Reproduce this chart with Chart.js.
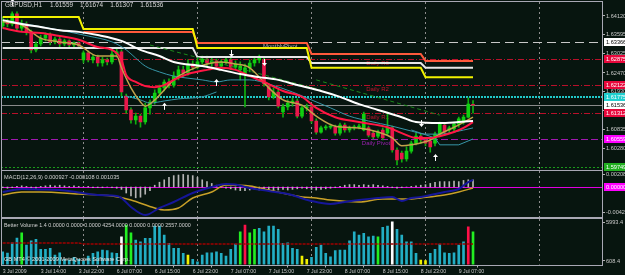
<!DOCTYPE html>
<html>
<head>
<meta charset="utf-8">
<script src="https://cdn.jsdelivr.net/npm/chart.js@4.4.1/dist/chart.umd.min.js"></script>
<style>
  html, body { margin:0; padding:0; background:#07150f; }
  #wrap { position:relative; width:625px; height:275px; overflow:hidden; background:#07150f; }
  canvas { position:absolute; left:0; }
</style>
</head>
<body>
<div id="wrap">
  <canvas id="cMain" width="625" height="171" style="top:0"></canvas>
  <canvas id="cMacd" width="625" height="48" style="top:170px"></canvas>
  <canvas id="cVol" width="625" height="57" style="top:218px"></canvas>
</div>
<script>
// ================= DATA =================
const symbolTitle = 'GBPUSD,H1';
const lastQuote = ['1.61559', '1.61674', '1.61307', '1.61536'];

// H1 bars, index 0 = 3 Jul 2009 06:00
const openP = [
1.6383,1.6398,1.6389,1.6418,1.6377,1.6389,1.6366,1.6314,1.6331,1.6348,
1.6357,1.6337,1.6345,1.6331,1.6340,1.6328,1.6334,1.6285,1.6305,1.6285,
1.6293,1.6276,1.6285,1.6279,1.6302,1.6308,1.6180,1.6140,1.6111,1.6122,
1.6105,1.6146,1.6163,1.6189,1.6204,1.6221,1.6212,1.6238,1.6256,1.6247,
1.6273,1.6264,1.6279,1.6287,1.6276,1.6282,1.6267,1.6279,1.6285,1.6264,
1.6256,1.6244,1.6262,1.6276,1.6285,1.6285,1.6209,1.6178,1.6192,1.6134,
1.6149,1.6160,1.6166,1.6122,1.6146,1.6149,1.6108,1.6076,1.6088,1.6090,
1.6090,1.6073,1.6096,1.6082,1.6088,1.6090,1.6082,1.6088,1.6073,1.6064,
1.6082,1.6073,1.6088,1.6024,1.6015,1.5998,1.6021,1.6044,1.6064,1.6053,
1.6050,1.6044,1.6070,1.6096,1.6082,1.6085,1.6099,1.6105,1.6119,1.61559];
const highP = [
1.6409,1.6403,1.6424,1.6424,1.6400,1.6395,1.6371,1.6337,1.6357,1.6363,
1.6363,1.6351,1.6351,1.6345,1.6343,1.6337,1.6337,1.6311,1.6311,1.6299,
1.6299,1.6293,1.6290,1.6314,1.6317,1.6314,1.6186,1.6146,1.6131,1.6128,
1.6160,1.6169,1.6198,1.6212,1.6227,1.6230,1.6250,1.6267,1.6267,1.6285,
1.6282,1.6290,1.6296,1.6296,1.6290,1.6287,1.6285,1.6293,1.6290,1.6282,
1.6279,1.6273,1.6285,1.6293,1.6299,1.6293,1.6215,1.6204,1.6198,1.6157,
1.6169,1.6175,1.6172,1.6151,1.6157,1.6154,1.6114,1.6093,1.6096,1.6099,
1.6096,1.6102,1.6102,1.6093,1.6096,1.6099,1.6134,1.6093,1.6079,1.6082,
1.6088,1.6131,1.6093,1.6030,1.6021,1.6033,1.6050,1.6073,1.6070,1.6059,
1.6056,1.6076,1.6105,1.6102,1.6093,1.6105,1.6119,1.6125,1.6175,1.61674];
const lowP = [
1.6377,1.6380,1.6383,1.6371,1.6369,1.6357,1.6305,1.6308,1.6325,1.6340,
1.6328,1.6331,1.6322,1.6325,1.6319,1.6322,1.6319,1.6276,1.6279,1.6276,
1.6267,1.6267,1.6270,1.6273,1.6293,1.6180,1.6131,1.6102,1.6099,1.6090,
1.6099,1.6128,1.6157,1.6180,1.6195,1.6204,1.6206,1.6227,1.6235,1.6241,
1.6256,1.6259,1.6273,1.6267,1.6267,1.6259,1.6262,1.6273,1.6256,1.6256,
1.6227,1.6149,1.6250,1.6267,1.6276,1.6209,1.6169,1.6172,1.6146,1.6119,
1.6140,1.6151,1.6117,1.6117,1.6137,1.6102,1.6070,1.6073,1.6082,1.6085,
1.6067,1.6067,1.6076,1.6076,1.6082,1.6085,1.6079,1.6062,1.6056,1.6059,
1.6053,1.6067,1.6018,1.5981,1.5989,1.5992,1.6015,1.6039,1.6044,1.6036,
1.6018,1.6036,1.6064,1.6067,1.6076,1.6079,1.6090,1.6099,1.6117,1.61307];
const closeP = [
1.6398,1.6389,1.6418,1.6377,1.6389,1.6366,1.6314,1.6331,1.6348,1.6357,
1.6337,1.6345,1.6331,1.6340,1.6328,1.6334,1.6325,1.6305,1.6285,1.6293,
1.6276,1.6285,1.6279,1.6302,1.6308,1.6192,1.6140,1.6111,1.6122,1.6105,
1.6146,1.6163,1.6189,1.6204,1.6221,1.6212,1.6238,1.6256,1.6247,1.6273,
1.6264,1.6279,1.6287,1.6276,1.6282,1.6267,1.6279,1.6285,1.6264,1.6273,
1.6267,1.6262,1.6276,1.6285,1.6290,1.6215,1.6178,1.6192,1.6151,1.6149,
1.6160,1.6166,1.6122,1.6146,1.6149,1.6108,1.6076,1.6088,1.6090,1.6093,
1.6073,1.6096,1.6082,1.6088,1.6090,1.6093,1.6128,1.6067,1.6062,1.6076,
1.6059,1.6088,1.6024,1.5995,1.5998,1.6021,1.6044,1.6064,1.6053,1.6044,
1.6033,1.6070,1.6099,1.6076,1.6088,1.6099,1.6114,1.6119,1.6157,1.61536];

// moving averages (bar index, price)
const whiteIdx = [0,4,8,12,16,20,25,29,33,36,42,46,50,54,58,62,67,71,75,79,84,87,92,96,99];
const whiteMA  = [1.6400,1.6389,1.6380,1.6371,1.6366,1.6357,1.6340,1.6314,1.6296,1.6279,1.6267,1.6256,1.6244,1.6235,1.6227,1.6212,1.6195,1.6178,1.6157,1.6140,1.6119,1.6105,1.6102,1.6105,1.6108];
const redIdx = [0,4,8,12,16,20,23,25,26,28,30,32,34,36,39,43,46,49,52,56,59,63,66,70,75,81,84,87,90,92,95,97,99];
const redMA  = [1.6377,1.6366,1.6363,1.6354,1.6343,1.6322,1.6314,1.6285,1.6241,1.6221,1.6209,1.6206,1.6212,1.6227,1.6244,1.6256,1.6262,1.6256,1.6238,1.6215,1.6195,1.6178,1.6146,1.6119,1.6105,1.6090,1.6073,1.6059,1.6059,1.6064,1.6076,1.6088,1.6105];
const khakiIdx = [0,4,8,12,16,20,24,25,27,29,30,32,34,36,39,43,46,49,52,56,59,63,66,70,75,79,82,84,86,90,92,95,99];
const khakiMA  = [1.6395,1.6386,1.6348,1.6337,1.6328,1.6296,1.6296,1.6262,1.6204,1.6163,1.6151,1.6169,1.6198,1.6227,1.6253,1.6273,1.6279,1.6273,1.6262,1.6204,1.6169,1.6154,1.6122,1.6093,1.6088,1.6076,1.6059,1.6036,1.6039,1.6053,1.6070,1.6090,1.6119];
const tealIdx = [0,6,12,18,23,26,28,30,33,36,39,42,45,48,52,56,61,65,69,73,77,82,86,89,92,95,99];
const tealMA  = [1.6400,1.6386,1.6371,1.6354,1.6337,1.6314,1.6290,1.6267,1.6250,1.6238,1.6232,1.6227,1.6221,1.6227,1.6227,1.6215,1.6192,1.6169,1.6146,1.6122,1.6108,1.6093,1.6079,1.6070,1.6070,1.6076,1.6088];
const bandLowAIdx = [26,29,31,34,37,42,45];
const bandLowA    = [1.6180,1.6169,1.6160,1.6166,1.6172,1.6178,1.6192];
const bandLowBIdx = [86,91,92,96,99];
const bandLowB    = [1.6082,1.6059,1.6039,1.6039,1.6056];
const trend1Idx = [31,67], trend1 = [1.6328,1.6198];
const trend2Idx = [66,92], trend2 = [1.6227,1.6125];

// daily step levels
const dayFirstBar = [0,17,41,65,89];
const dayLastBar  = [16,40,64,88,99];
const levelYellow = [1.6409,1.6374,1.6319,1.6262,1.6235];
const levelOrange = [null,1.6366,1.6334,1.6302,1.6282];
const levelWhite  = [1.6319,1.6319,1.6293,1.6276,1.6262];

// horizontal price levels
const levelKinds  = ['monthly','r3','r2','cyan','bid','r1','pivot','s1'];
const levelPrices = [1.63366,1.62875,1.62122,1.61775,1.61536,1.61312,1.60559,1.59749];
const levelLabels = ['1.63366','1.62875','1.62122','1.61775','1.61536','1.61312','1.60559','1.59749'];
const levelTexts  = {monthly:'MonthlyPivot', r3:'Daily R3', r2:'Daily R2', r1:'Daily R1', pivot:'Daily Pivot'};
const levelTextBar = {monthly:54.8, r3:76.5, r2:76.5, r1:76.5, pivot:75.6};

// arrows
const arrowIdx   = [2,48,55,34,45,88,91];
const arrowPrice = [1.6450,1.6305,1.6279,1.6149,1.6218,1.6102,1.6001];
const arrowDir   = ['up','down','down','up','up','down','up'];

// price axis
const priceTicks = [1.64120,1.63595,1.63025,1.62470,1.61930,1.61380,1.60835,1.60280];
const priceTickLabels = ['1.64120','1.63595','1.63025','1.62470','1.61930','1.61380','1.60835','1.60280'];

// time axis
const timeTickBars = [0,8,16,24,32,40,48,56,64,72,80,88,96];
const timeLabels = ['3 Jul 2009','3 Jul 14:00','3 Jul 22:00','6 Jul 07:00','6 Jul 15:00','6 Jul 23:00','7 Jul 07:00','7 Jul 15:00','7 Jul 23:00','8 Jul 07:00','8 Jul 15:00','8 Jul 23:00','9 Jul 07:00'];
const dayBreakBars = [16.8,40.9,64.9,88.9,112.9];

// MACD
const macdTitle = 'MACD(12,26,9) 0.000927 -0.000108 0.001035';
const macdHist = [
-0.0001,-0.0002,-0.0001,0.0001,0.0002,0.0001,-0.0001,-0.0002,
0.0001,0.0002,0.0003,0.0002,0.0003,0.0002,0.0001,0.0002,0.0001,0.0000,0.0001,-0.0001,-0.0001,
-0.0001,0.0000,-0.0001,-0.0002,
-0.0004,-0.0010,-0.0015,-0.0018,-0.0017,-0.0012,-0.0006,
0.0003,0.0008,0.0012,0.0016,0.0019,0.0020,0.0021,0.0020,0.0019,0.0016,0.0012,0.0009,0.0006,0.0003,0.0001,
-0.0002,-0.0003,-0.0005,-0.0006,-0.0006,-0.0005,-0.0004,-0.0005,-0.0005,-0.0006,-0.0006,-0.0005,-0.0004,-0.0005,-0.0004,-0.0003,-0.0002,-0.0003,
-0.0004,-0.0005,-0.0004,-0.0003,-0.0002,-0.0001,0.0001,
0.0003,0.0004,0.0004,0.0003,0.0004,0.0003,0.0004,0.0003,0.0002,0.0001,-0.0001,-0.0002,-0.0001,
0.0000,0.0001,0.0002,0.0003,
0.0004,0.0006,0.0008,0.0009,0.0009,0.0009,0.0010,0.0009,0.0011,0.0012,0.0012];
const macdMainIdx = [0,4,8,12,16,20,24,25,27,30,33,36,40,44,47,49,52,56,60,65,69,72,75,79,82,84,86,88,93,96,98,99];
const macdMain    = [-0.00083,-0.00033,-0.00042,-0.0005,-0.00092,-0.00133,-0.0015,-0.00183,-0.00333,-0.00467,-0.0035,-0.0025,-0.001,0,0.0005,0.00042,-0.00017,-0.00067,-0.00117,-0.00233,-0.00283,-0.0025,-0.00217,-0.00183,-0.00167,-0.00233,-0.00183,-0.00167,-0.00083,-0.00033,0.00083,0.00117];
const macdSigIdx = [0,4,8,16,23,27,32,34,37,40,44,47,52,56,63,66,69,75,80,86,88,93,96,99];
const macdSig    = [-0.00133,-0.00083,-0.00083,-0.00117,-0.0015,-0.00217,-0.0035,-0.00383,-0.0035,-0.00183,-0.00083,0.00033,0.00017,-0.0005,-0.00167,-0.00183,-0.00217,-0.0025,-0.002,-0.002,-0.00183,-0.00133,-0.00083,-0.00017];
const macdTicks = [-0.00425, 0.00208];
const macdTickLabels = ['-0.00425','0.00208'];

// Better Volume
const volTitle = 'Better Volume 1.4 0.0000 0.0000 0.0000 4254.0000 0.0000 0.0000 2557.0000';
const volumes = [
1890,1710,3130,3780,4510,2820,3410,3600,2220,2220,
2360,1440,1750,840,750,1120,840,600,1300,1670,
1890,2130,2030,1750,1670,3960,5580,4510,3510,3270,
3740,3740,5440,5440,4200,3050,2360,2360,1670,1440,
840,500,1440,1750,1750,1890,1670,1300,2220,2950,
4650,5580,4510,4980,5120,4650,5440,5440,4980,3050,
3130,2360,2220,1300,840,1100,2500,2820,1670,1200,
2030,2130,2130,3410,4650,4200,4430,3960,4060,3960,
5260,5440,6030,4980,4200,3270,3270,1670,750,650,
1670,2220,2950,1750,1670,1750,2820,3270,5340,4650];
// n = normal, g = churn, w = climax down, r = climax up, y = low volume
const volType = ('nnnngnnnnn'+'nnnnnnnnnn'+'nnnnnwggnn'+'nnnnnnnnny'+'nnnnnnnnnn'+
                 'grggnnnnnn'+'nnnyynnnnn'+'nnnnnnnnng'+'nnwnnnnnyy'+'nnnnnnnnrg').split('');
const volAvgIdx = [0,16,17,99];
const volAvg    = [3090,3090,2955,2955];
const volTicks = [608.4, 5993.4];
const volTickLabels = ['608.4','5993.4'];
const copyrightText = 'GB MT4 \u00a9 2001-2009 MetaQuotes Software Corp.';

// ================= RENDER =================
const FONT = '"Liberation Sans", Arial, sans-serif';
const FRAME = '#a8a8b4';
const XMIN = -0.358, XMAX = 126.15;

function pts(ix, vals) { return ix.map((x, k) => ({x, y: vals[k]})); }
function stepPts(vals) {
  const out = [];
  vals.forEach((v, d) => { if (v == null) return; out.push({x: dayFirstBar[d], y: v}, {x: dayLastBar[d], y: v}); });
  return out;
}
function text(ctx, s, x, y, color, size, align, base) {
  ctx.font = size + 'px ' + FONT;
  ctx.fillStyle = color; ctx.textAlign = align || 'left'; ctx.textBaseline = base || 'middle';
  ctx.fillText(s, x, y);
  return ctx.measureText(s).width;
}
function frame(chart) {
  const {ctx, chartArea: a} = chart;
  ctx.save(); ctx.strokeStyle = FRAME; ctx.lineWidth = 1;
  ctx.strokeRect(Math.round(a.left) + 0.5, Math.round(a.top) - 0.5, Math.round(a.right - a.left), Math.round(a.bottom - a.top) + 1);
  ctx.restore();
}
function dayBreaks(chart) {
  const {ctx, chartArea: a, scales: {x}} = chart;
  ctx.save(); ctx.strokeStyle = '#8c8c8c'; ctx.lineWidth = 1; ctx.setLineDash([2, 3]);
  dayBreakBars.forEach(b => {
    const px = Math.round(x.getPixelForValue(b)) + 0.5;
    ctx.beginPath(); ctx.moveTo(px, a.top); ctx.lineTo(px, a.bottom); ctx.stroke();
  });
  ctx.restore();
}
const levelStyle = {
  monthly: {c:'#c8c8c8', w:1, d:[9,5], box:'#ffffff', t:'#000000'},
  r3:      {c:'#b8102a', w:1, d:[6,2,1,2], box:'#e8083c', t:'#ffffff'},
  r2:      {c:'#b8102a', w:1, d:[6,2,1,2], box:'#e8083c', t:'#ffffff'},
  cyan:    {c:'#20c8c8', w:2, d:[2,1], box:'#20d0d0', t:'#ffffff'},
  bid:     {c:'#8a8a8a', w:1, d:[], box:'#ffffff', t:'#000000'},
  r1:      {c:'#b8102a', w:1, d:[6,2,1,2], box:'#e8083c', t:'#ffffff'},
  pivot:   {c:'#a018b0', w:1, d:[7,3], box:'#ff00ff', t:'#ffffff'},
  s1:      {c:'#1a9a1a', w:1, d:[2,2], box:'#20b020', t:'#ffffff'}
};
const levelTextColor = {monthly:'#b8b8b8', r3:'#c0142e', r2:'#c0142e', r1:'#c0142e', pivot:'#9a20b0'};

const mainPlugin = {
  id: 'mainDecor',
  beforeDatasetsDraw(chart) {
    const {ctx, chartArea: a, scales: {x, y}} = chart;
    ctx.save();
    ctx.beginPath(); ctx.rect(a.left, a.top, a.right - a.left, a.bottom - a.top); ctx.clip();
    dayBreaks(chart);
    levelPrices.forEach((p, k) => {
      const st = levelStyle[levelKinds[k]];
      const py = Math.round(y.getPixelForValue(p)) + (st.w % 2 ? 0.5 : 0);
      ctx.strokeStyle = st.c; ctx.lineWidth = st.w; ctx.setLineDash(st.d);
      ctx.beginPath(); ctx.moveTo(a.left, py); ctx.lineTo(a.right, py); ctx.stroke();
    });
    ctx.setLineDash([]);
    levelKinds.forEach((kind, k) => {
      if (!levelTexts[kind]) return;
      const py = y.getPixelForValue(levelPrices[k]);
      text(ctx, levelTexts[kind], x.getPixelForValue(levelTextBar[kind]), py + 1.5, levelTextColor[kind], 6, 'left', 'top');
    });
    ctx.restore();
  },
  afterDatasetsDraw(chart) {
    const {ctx, scales: {x, y}} = chart;
    ctx.save(); ctx.strokeStyle = '#ffffff'; ctx.fillStyle = '#ffffff'; ctx.lineWidth = 1;
    arrowIdx.forEach((ix, k) => {
      const px = Math.round(x.getPixelForValue(ix)) + 0.5, py = y.getPixelForValue(arrowPrice[k]);
      const s = arrowDir[k] === 'up' ? -1 : 1;
      ctx.beginPath(); ctx.moveTo(px, py - 3 * s); ctx.lineTo(px, py + 3 * s); ctx.stroke();
      ctx.beginPath(); ctx.moveTo(px, py + 4 * s); ctx.lineTo(px - 2.5, py + 1 * s); ctx.lineTo(px + 2.5, py + 1 * s); ctx.closePath(); ctx.fill();
    });
    ctx.restore();
  },
  afterDraw(chart) {
    const {ctx, chartArea: a, scales: {y}} = chart;
    frame(chart);
    ctx.save();
    let tx = 5;
    tx += text(ctx, symbolTitle, tx, 5.5, '#d8d8d8', 6.4) + 8;
    lastQuote.forEach(q => { tx += text(ctx, q, tx, 5.5, '#d8d8d8', 6.4) + 7; });
    levelPrices.forEach((p, k) => {
      const st = levelStyle[levelKinds[k]];
      const py = Math.round(y.getPixelForValue(p));
      ctx.fillStyle = st.box;
      ctx.fillRect(Math.round(a.right) + 2, py - 4, 30, 8);
      text(ctx, levelLabels[k], Math.round(a.right) + 4, py + 0.5, st.t, 5.6);
    });
    ctx.restore();
  }
};

const macdPlugin = {
  id: 'macdDecor',
  beforeDatasetsDraw(chart) {
    const {ctx, chartArea: a, scales: {y}} = chart;
    dayBreaks(chart);
    ctx.save();
    const py = Math.round(y.getPixelForValue(0)) + 0.5;
    ctx.strokeStyle = '#e000e0'; ctx.lineWidth = 1;
    ctx.beginPath(); ctx.moveTo(a.left, py); ctx.lineTo(a.right, py); ctx.stroke();
    ctx.restore();
  },
  afterDraw(chart) {
    const {ctx, chartArea: a, scales: {y}} = chart;
    frame(chart);
    ctx.save();
    text(ctx, macdTitle, 4, 7, '#d0d0d0', 5.6);
    const py = Math.round(y.getPixelForValue(0));
    ctx.fillStyle = '#ff00ff'; ctx.fillRect(Math.round(a.right) + 2, py - 4, 30, 8);
    text(ctx, '0.00000', Math.round(a.right) + 4, py + 0.5, '#ffffff', 5.6);
    ctx.restore();
  }
};

const volPlugin = {
  id: 'volDecor',
  beforeDatasetsDraw(chart) { dayBreaks(chart); },
  afterDraw(chart) {
    const {ctx} = chart;
    frame(chart);
    ctx.save();
    text(ctx, volTitle, 4, 7.5, '#d0d0d0', 5.4);
    text(ctx, copyrightText, 4, 41.5, '#e8e8e8', 5.6);
    ctx.restore();
  }
};

Chart.defaults.font.family = FONT;

function yAxis(min, max, ticks, labels, size) {
  return {
    type: 'linear', position: 'right', min, max,
    afterBuildTicks: s => { s.ticks = ticks.map(v => ({value: v})); },
    afterFit: s => { s.width = 23; s.paddingTop = 0; s.paddingBottom = 0; },
    ticks: { color: '#c8c8c8', font: {size: size || 5.6}, padding: 1, autoSkip: false,
             callback: (v, i) => labels[i] },
    grid: { drawOnChartArea: false, drawTicks: true, tickLength: 3, color: '#b0b0b0' },
    border: { display: false }
  };
}
const hiddenX = { type: 'linear', min: XMIN, max: XMAX, display: false, offset: false };
const common = { responsive: false, animation: false, devicePixelRatio: 1,
                 plugins: { legend: {display: false}, tooltip: {enabled: false} } };

// ---------- main price chart ----------
const bull = closeP.map((c, i) => c >= openP[i]);
new Chart(document.getElementById('cMain'), {
  type: 'bar',
  data: { datasets: [
    { type:'line', data: pts(whiteIdx, whiteMA), borderColor:'#ffffff', borderWidth:2, pointRadius:0, cubicInterpolationMode:'monotone', order:1 },
    { type:'line', data: pts(redIdx, redMA), borderColor:'#ff1744', borderWidth:2, pointRadius:0, cubicInterpolationMode:'monotone', order:2 },
    { type:'line', data: pts(khakiIdx, khakiMA), borderColor:'#c2a24c', borderWidth:1.5, pointRadius:0, cubicInterpolationMode:'monotone', order:3 },
    { type:'line', data: pts(tealIdx, tealMA), borderColor:'#3796a8', borderWidth:1, pointRadius:0, cubicInterpolationMode:'monotone', order:4 },
    { type:'line', data: pts(bandLowAIdx, bandLowA), borderColor:'#3796a8', borderWidth:1, pointRadius:0, cubicInterpolationMode:'monotone', order:4 },
    { type:'line', data: pts(bandLowBIdx, bandLowB), borderColor:'#3796a8', borderWidth:1, pointRadius:0, order:4 },
    { type:'line', data: pts(trend1Idx, trend1), borderColor:'#1c8a1c', borderWidth:1, borderDash:[4,3], pointRadius:0, order:5 },
    { type:'line', data: pts(trend2Idx, trend2), borderColor:'#1c8a1c', borderWidth:1, borderDash:[4,3], pointRadius:0, order:5 },
    { type:'line', data: stepPts(levelYellow), borderColor:'#f2f200', borderWidth:2, pointRadius:0, order:6 },
    { type:'line', data: stepPts(levelOrange), borderColor:'#ff5a3c', borderWidth:2, pointRadius:0, order:6 },
    { type:'line', data: stepPts(levelWhite), borderColor:'#e6e6e6', borderWidth:2, pointRadius:0, order:6 },
    { type:'bar', data: openP.map((o, i) => ({x: i, y: [o, closeP[i]]})), grouped:false, barThickness:3, minBarLength:1,
      backgroundColor: bull.map(b => b ? '#10d010' : '#e8174b'), borderWidth:0, order:9 },
    { type:'bar', data: lowP.map((l, i) => ({x: i, y: [l, highP[i]]})), grouped:false, barThickness:1,
      backgroundColor:'#0fb00f', borderWidth:0, order:10 }
  ]},
  options: { ...common,
    layout: { padding: {left:1, right:0, top:2, bottom:1.5} },
    scales: { x: hiddenX, y: yAxis(1.59676, 1.64525, priceTicks, priceTickLabels) } },
  plugins: [mainPlugin]
});

// ---------- MACD ----------
new Chart(document.getElementById('cMacd'), {
  type: 'bar',
  data: { datasets: [
    { type:'line', data: pts(macdMainIdx, macdMain), borderColor:'#16169a', borderWidth:2, pointRadius:0, cubicInterpolationMode:'monotone', order:1 },
    { type:'line', data: pts(macdSigIdx, macdSig), borderColor:'#c8a028', borderWidth:1.5, pointRadius:0, cubicInterpolationMode:'monotone', order:2 },
    { type:'bar', data: macdHist.map((v, i) => ({x: i, y: v})), grouped:false, barThickness:1, backgroundColor:'#b4b4b4', order:3 }
  ]},
  options: { ...common,
    layout: { padding: {left:1, right:0, top:1, bottom:1} },
    scales: { x: hiddenX, y: yAxis(-0.0050, 0.00267, macdTicks, macdTickLabels) } },
  plugins: [macdPlugin]
});

// ---------- Better Volume ----------
const volColor = {n:'#22aec4', g:'#22ee22', w:'#ffffff', r:'#ff1048', y:'#f0f000'};
new Chart(document.getElementById('cVol'), {
  type: 'bar',
  data: { datasets: [
    { type:'line', data: pts(volAvgIdx, volAvg), borderColor:'#a00000', borderWidth:1.5, borderDash:[3,1], pointRadius:0, order:1 },
    { type:'bar', data: volumes.map((v, i) => ({x: i, y: v})), grouped:false, barThickness:2,
      backgroundColor: volType.map(t => volColor[t]), order:2 }
  ]},
  options: { ...common,
    layout: { padding: {left:1, right:0, top:1, bottom:0} },
    scales: {
      x: { type:'linear', min: XMIN, max: XMAX, offset:false, position:'bottom',
           afterBuildTicks: s => { s.ticks = timeTickBars.map(v => ({value: v})); },
           afterFit: s => { s.height = 10.5; s.paddingLeft = 0; s.paddingRight = 0; },
           ticks: { color:'#c8c8c8', font:{size:5.2}, padding:1, align:'start', autoSkip:false, maxRotation:0, minRotation:0,
                    callback: (v, i) => timeLabels[i] },
           grid: { drawOnChartArea:false, drawTicks:true, tickLength:3, color:'#b0b0b0' },
           border: { display:false } },
      y: yAxis(125, 6408, volTicks, volTickLabels)
    } },
  plugins: [volPlugin]
});
</script>
</body>
</html>
